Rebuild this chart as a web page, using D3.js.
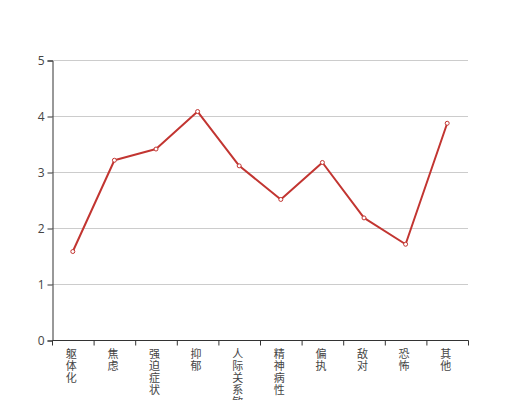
<!DOCTYPE html>
<html><head><meta charset="utf-8">
<script src="https://cdn.jsdelivr.net/npm/d3@7"></script>
<style>body{margin:0;background:#fff}svg{display:block}</style>
</head><body>
<svg id="c" width="520" height="400"></svg>
<script>
const categories = ["躯体化","焦虑","强迫症状","抑郁","人际关系敏感","精神病性","偏执","敌对","恐怖","其他"];
const values = [1.58,3.21,3.41,4.08,3.11,2.51,3.17,2.18,1.71,3.87];
const yTicks = [0,1,2,3,4,5];

const svg = d3.select("#c");
const m = {left:52, right:468, top:60, bottom:340};
const x = d3.scaleBand().domain(categories).range([m.left, m.right]);
const y = d3.scaleLinear().domain([0,5]).range([m.bottom, m.top]);
const font = "'Noto Sans CJK SC', sans-serif";

// grid
svg.append("g").selectAll("line").data(yTicks.filter(d=>d>0)).join("line")
  .attr("x1", m.left).attr("x2", m.right)
  .attr("y1", d=>y(d)+0.5).attr("y2", d=>y(d)+0.5)
  .attr("stroke","#ccc").attr("stroke-width",1);

// y axis
const ya = svg.append("g").attr("transform",`translate(${m.left+0.5},0.5)`)
  .call(d3.axisLeft(y).tickValues(yTicks).tickSize(5).tickPadding(3).tickFormat(d3.format("d")));
ya.select(".domain").attr("stroke","#333");
ya.selectAll(".tick line").attr("stroke","#333");
ya.selectAll(".tick text").attr("fill","#444").style("font-family","'Open Sans', sans-serif").style("font-size","12px");

// x axis
const xa = svg.append("g").attr("transform",`translate(0.5,${m.bottom+0.5})`);
xa.append("line").attr("x1",m.left).attr("x2",m.right).attr("stroke","#333");
const bounds = categories.map(c=>x(c)).concat([m.right]);
xa.selectAll("line.t").data(bounds).join("line").attr("class","t")
  .attr("x1",d=>d).attr("x2",d=>d).attr("y1",0).attr("y2",5).attr("stroke","#333");
const lab = xa.selectAll("text").data(categories).join("text")
  .attr("x", d=>x(d)+x.bandwidth()/2)
  .attr("y", 8)
  .attr("text-anchor","middle")
  .attr("fill","#444").style("font-family",font).style("font-size","11px");
lab.each(function(d){
  const t = d3.select(this);
  Array.from(d).forEach((ch,i)=>{
    t.append("tspan").attr("x", x(d)+x.bandwidth()/2 - 2).attr("y", 17 + i*12).text(ch);
  });
});

// line
const cx = d => x(d)+x.bandwidth()/2;
const line = d3.line().x((d,i)=>cx(categories[i])).y(d=>y(d));
svg.append("path").datum(values).attr("d", line)
  .attr("fill","none").attr("stroke","#c23531").attr("stroke-width",2).attr("stroke-linejoin","round");
svg.append("g").selectAll("circle").data(values).join("circle")
  .attr("cx",(d,i)=>cx(categories[i])).attr("cy",d=>y(d)).attr("r",2)
  .attr("fill","#fff").attr("stroke","#c23531").attr("stroke-width",1);
</script>
</body></html>
